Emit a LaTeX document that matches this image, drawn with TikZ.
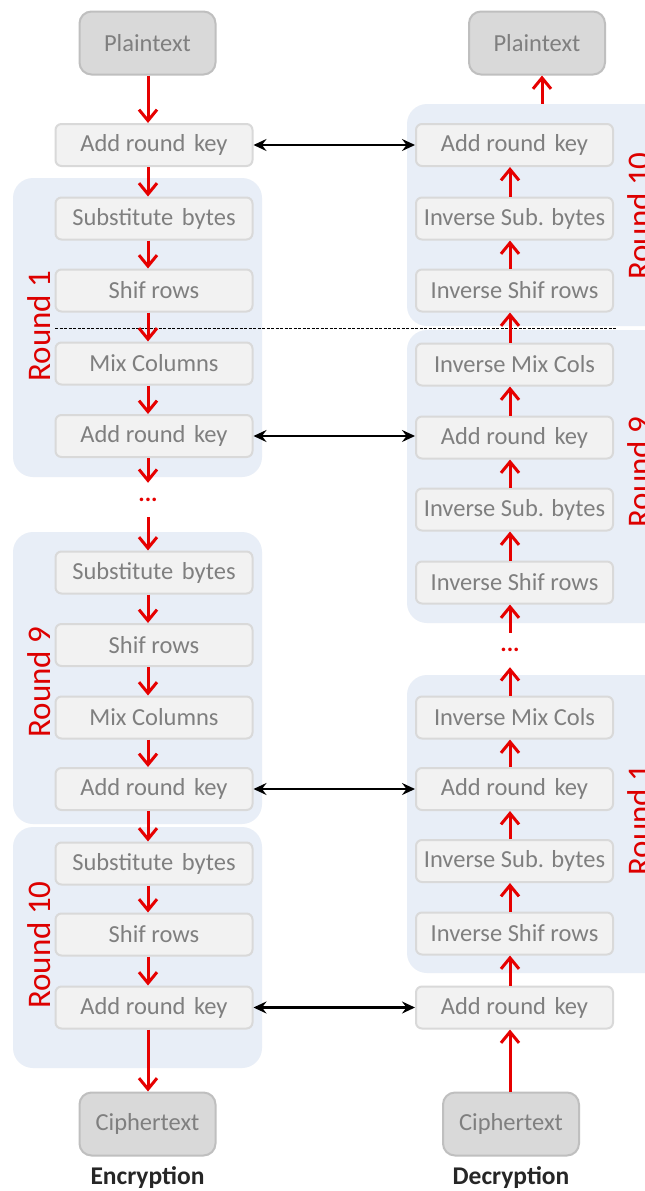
\documentclass[tikz,border=0pt]{standalone}
\usepackage{fontspec}
\setmainfont{Carlito}
\usetikzlibrary{arrows.meta}
\definecolor{boxfill}{HTML}{F2F2F2}
\definecolor{boxline}{HTML}{D9D9D9}
\definecolor{termfill}{HTML}{D9D9D9}
\definecolor{termline}{HTML}{BFBFBF}
\definecolor{txtgray}{HTML}{7F7F7F}
\definecolor{panelblue}{HTML}{E8EEF7}
\definecolor{arrowred}{HTML}{E60000}
\definecolor{labelred}{HTML}{DD0000}
\begin{document}
\begin{tikzpicture}[x=1pt,y=-1pt,
 stepbox/.style={draw=boxline, line width=2pt, fill=boxfill, rounded corners=6pt, minimum width=197pt, minimum height=42pt, inner sep=0pt, text=txtgray, font=\fontsize{24.5}{28}\selectfont},
 termbox/.style={draw=termline, line width=2pt, fill=termfill, rounded corners=12pt, minimum width=136pt, minimum height=63pt, inner sep=0pt, text=txtgray, font=\fontsize{24.5}{28}\selectfont},
 panel/.style={fill=panelblue, rounded corners=20pt, inner sep=0pt},
 roundlbl/.style={rotate=90, anchor=base, text=labelred, font=\fontsize{33}{36}\selectfont, inner sep=0pt},
 flow/.style={draw=arrowred, line width=3pt, -{Straight Barb[length=11pt,width=18pt]}},
 keyarrow/.style={draw=black, line width=2.2pt, {Stealth[length=13pt,width=12pt,inset=4.5pt]}-{Stealth[length=13pt,width=12pt,inset=4.5pt]}},
 dotsnode/.style={text=arrowred, font=\fontsize{24}{28}\selectfont\bfseries, minimum height=34pt, inner sep=0pt},
 caption/.style={font=\fontsize{25.5}{28}\selectfont\bfseries, text=black!85}
]
\clip (0,0) rectangle (645,1191);
\fill[white] (0,0) rectangle (645,1191);

% panels
\node[panel, minimum width=249pt, minimum height=299pt] (p1l) at (137.5,327.5) {};
\node[panel, minimum width=249pt, minimum height=292pt] (p9l) at (137.5,678) {};
\node[panel, minimum width=249pt, minimum height=241pt] (p10l) at (137.5,947.5) {};
\node[panel, minimum width=273pt, minimum height=222pt] (p10r) at (543.5,215) {};
\node[panel, minimum width=273pt, minimum height=293pt] (p9r) at (543.5,476.5) {};
\node[panel, minimum width=273pt, minimum height=298pt] (p1r) at (543.5,824) {};

% dashed separator
\coordinate (dashA) at (55,328);
\coordinate (dashB) at (617,328);
\draw[black, line width=0.9pt, dash pattern=on 3pt off 1.5pt] (dashA) -- (dashB);

% axes for arrows
\coordinate (lx) at (148,0);
\coordinate (rx) at (510,0);
\coordinate (rtx) at (542,0);

% terminals
\node[termbox] (plL) at (147.5,43) {Plaintext};
\node[termbox] (plR) at (537,43) {Plaintext};
\node[termbox] (ctL) at (147.5,1124) {Ciphertext};
\node[termbox] (ctR) at (511,1124) {Ciphertext};

% left column
\node[stepbox] (k0) at (154,145) {Add round\hspace{3pt} key};
\node[stepbox] (sb1) at (154,218.5) {Substitute\hspace{3pt} bytes};
\node[stepbox] (sr1) at (154,290.5) {Shif rows};
\node[stepbox] (mc1) at (154,363.5) {Mix Columns};
\node[stepbox] (ak1) at (154,436) {Add round\hspace{3pt} key};
\node[dotsnode] (dL) at (148,500) {...};
\node[stepbox] (sb9) at (154,572.5) {Substitute\hspace{3pt} bytes};
\node[stepbox] (sr9) at (154,645) {Shif rows};
\node[stepbox] (mc9) at (154,717.5) {Mix Columns};
\node[stepbox] (ak9) at (154,789) {Add round\hspace{3pt} key};
\node[stepbox] (sb10) at (154,863.5) {Substitute\hspace{3pt} bytes};
\node[stepbox] (sr10) at (154,934.5) {Shif rows};
\node[stepbox] (ak10) at (154,1007.5) {Add round\hspace{3pt} key};

% right column
\node[stepbox] (rk10) at (514.5,145) {Add round\hspace{3pt} key};
\node[stepbox] (risb10) at (514.5,218.5) {Inverse Sub. bytes};
\node[stepbox] (risr10) at (514.5,290.5) {Inverse Shif rows};
\node[stepbox] (rimc9) at (514.5,364.5) {Inverse Mix Cols};
\node[stepbox] (rk9) at (514.5,437.5) {Add round\hspace{3pt} key};
\node[stepbox] (risb9) at (514.5,509.5) {Inverse Sub. bytes};
\node[stepbox] (risr9) at (514.5,582.5) {Inverse Shif rows};
\node[dotsnode] (dR) at (510,650) {...};
\node[stepbox] (rimc1) at (514.5,717.5) {Inverse Mix Cols};
\node[stepbox] (rk1) at (514.5,789) {Add round\hspace{3pt} key};
\node[stepbox] (risb1) at (514.5,861) {Inverse Sub. bytes};
\node[stepbox] (risr1) at (514.5,933.5) {Inverse Shif rows};
\node[stepbox] (rk0) at (514.5,1007.5) {Add round\hspace{3pt} key};

% left flow
\draw[flow] (plL.south -| lx) -- (k0.north -| lx);
\draw[flow] (k0.south -| lx) -- (sb1.north -| lx);
\draw[flow] (sb1.south -| lx) -- (sr1.north -| lx);
\draw[flow] (sr1.south -| lx) -- (mc1.north -| lx);
\draw[flow] (mc1.south -| lx) -- (ak1.north -| lx);
\draw[flow] (ak1.south -| lx) -- (dL.north);
\draw[flow] (dL.south) -- (sb9.north -| lx);
\draw[flow] (sb9.south -| lx) -- (sr9.north -| lx);
\draw[flow] (sr9.south -| lx) -- (mc9.north -| lx);
\draw[flow] (mc9.south -| lx) -- (ak9.north -| lx);
\draw[flow] (ak9.south -| lx) -- (sb10.north -| lx);
\draw[flow] (sb10.south -| lx) -- (sr10.north -| lx);
\draw[flow] (sr10.south -| lx) -- (ak10.north -| lx);
\draw[flow] (ak10.south -| lx) -- (ctL.north -| lx);

% right flow
\draw[flow] (ctR.north -| rx) -- (rk0.south -| rx);
\draw[flow] (rk0.north -| rx) -- (risr1.south -| rx);
\draw[flow] (risr1.north -| rx) -- (risb1.south -| rx);
\draw[flow] (risb1.north -| rx) -- (rk1.south -| rx);
\draw[flow] (rk1.north -| rx) -- (rimc1.south -| rx);
\draw[flow] (rimc1.north -| rx) -- (dR.south);
\draw[flow] (dR.north) -- (risr9.south -| rx);
\draw[flow] (risr9.north -| rx) -- (risb9.south -| rx);
\draw[flow] (risb9.north -| rx) -- (rk9.south -| rx);
\draw[flow] (rk9.north -| rx) -- (rimc9.south -| rx);
\draw[flow] (rimc9.north -| rx) -- (risr10.south -| rx);
\draw[flow] (risr10.north -| rx) -- (risb10.south -| rx);
\draw[flow] (risb10.north -| rx) -- (rk10.south -| rx);
\draw[flow] (p10r.north -| rtx) -- (plR.south -| rtx);

% key arrows
\draw[keyarrow] (k0.east) -- (k0.east -| rk10.west);
\draw[keyarrow] (ak1.east) -- (ak1.east -| rk9.west);
\draw[keyarrow] (ak9.east) -- (ak9.east -| rk1.west);
\draw[keyarrow] (ak10.east) -- (ak10.east -| rk0.west);

% round labels
\node[roundlbl] (lr1) at (50,326) {Round 1};
\node[roundlbl] (lr9) at (50,682) {Round 9};
\node[roundlbl] (lr10) at (50,945) {Round 10};
\node[roundlbl] (rr10) at (650,216) {Round 10};
\node[roundlbl] (rr9) at (650,472) {Round 9};
\node[roundlbl] (rr1) at (650,820) {Round 1};

% captions
\node[caption] (encl) at (147.5,1178) {Encryption};
\node[caption] (decl) at (511,1178) {Decryption};
\end{tikzpicture}
\end{document}
